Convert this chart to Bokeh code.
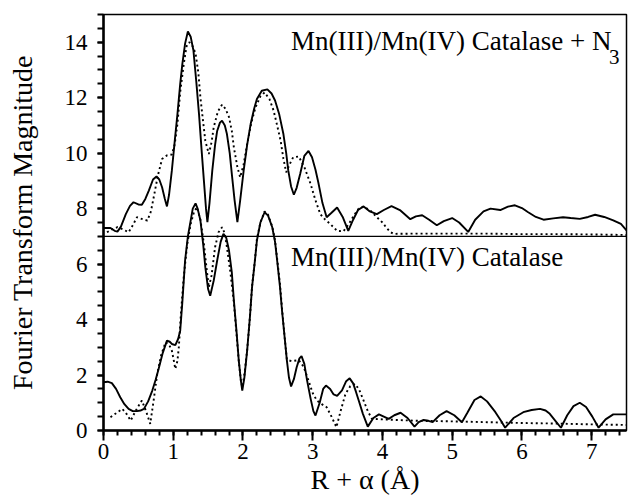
from bokeh.plotting import figure
from bokeh.models import Label, Span, FixedTicker, Range1d
from bokeh.embed import file_html
from bokeh.resources import INLINE

OFFSET = 7.0

# Mn(III)/Mn(IV) Catalase + N3 (top; plotted values include the +7 offset)
top_solid_x = [0.00, 0.10, 0.16, 0.20, 0.25, 0.32, 0.38, 0.43, 0.50, 0.55, 0.60, 0.65, 0.71, 0.76, 0.80,
               0.84, 0.88, 0.91, 0.94, 0.98, 1.02, 1.06, 1.10, 1.13, 1.17, 1.21, 1.25, 1.29, 1.33, 1.37,
               1.41, 1.44, 1.47, 1.49, 1.52, 1.56, 1.60, 1.63, 1.67, 1.70, 1.74, 1.77, 1.81, 1.84, 1.88,
               1.92, 1.96, 2.01, 2.06, 2.11, 2.16, 2.20, 2.27, 2.35, 2.41, 2.46, 2.52, 2.58, 2.62, 2.65,
               2.69, 2.73, 2.77, 2.82, 2.88, 2.94, 2.99, 3.04, 3.08, 3.14, 3.20, 3.27, 3.35, 3.43, 3.51,
               3.58, 3.65, 3.73, 3.82, 3.92, 4.02, 4.13, 4.25, 4.40, 4.48, 4.57, 4.67, 4.78, 4.88, 5.00,
               5.10, 5.23, 5.33, 5.45, 5.55, 5.69, 5.80, 5.90, 6.00, 6.09, 6.20, 6.31, 6.45, 6.59, 6.70,
               6.83, 6.95, 7.05, 7.18, 7.31, 7.42, 7.50]
top_solid_y = [7.30, 7.30, 7.20, 7.17, 7.35, 7.80, 8.10, 8.23, 8.15, 8.14, 8.35, 8.65, 9.05, 9.16, 9.05,
               8.77, 8.35, 8.08, 8.50, 9.37, 10.40, 11.40, 12.50, 13.20, 13.95, 14.39, 14.20, 13.70, 12.60, 11.40,
               10.00, 9.00, 8.00, 7.51, 8.20, 9.37, 10.30, 10.80, 11.10, 11.17, 11.00, 10.69, 10.00, 9.25, 8.30,
               7.51, 8.30, 9.37, 10.30, 11.05, 11.60, 11.95, 12.25, 12.30, 12.15, 11.90, 11.40, 10.69, 10.00, 9.37,
               8.80, 8.50, 8.75, 9.25, 9.90, 10.08, 9.85, 9.40, 8.95, 8.20, 7.69, 7.85, 8.04, 7.70, 7.20,
               7.60, 7.95, 8.08, 7.90, 7.80, 7.95, 8.09, 7.95, 7.62, 7.72, 7.76, 7.60, 7.40, 7.55, 7.66,
               7.50, 7.16, 7.60, 7.90, 8.00, 7.95, 8.07, 8.12, 8.02, 7.87, 7.70, 7.60, 7.65, 7.69, 7.66,
               7.63, 7.70, 7.78, 7.70, 7.58, 7.45, 7.22]

top_dot_x = [0.05, 0.12, 0.20, 0.28, 0.36, 0.42, 0.48, 0.56, 0.63, 0.68, 0.72, 0.78, 0.84, 0.91, 0.98,
             1.02, 1.06, 1.10, 1.15, 1.19, 1.23, 1.27, 1.32, 1.36, 1.39, 1.43, 1.46, 1.51, 1.55, 1.58,
             1.64, 1.70, 1.75, 1.80, 1.84, 1.87, 1.92, 1.96, 2.01, 2.06, 2.12, 2.18, 2.25, 2.31, 2.38,
             2.44, 2.49, 2.54, 2.58, 2.62, 2.67, 2.72, 2.80, 2.88, 2.97, 3.04, 3.11, 3.18, 3.25, 3.35,
             3.44, 3.52, 3.59, 3.66, 3.73, 3.82, 3.92, 4.00, 4.06, 4.12, 4.16, 4.50, 5.00, 5.50, 6.00,
             6.50, 7.00, 7.50]
top_dot_y = [7.15, 7.25, 7.33, 7.25, 7.15, 7.40, 7.69, 7.62, 7.57, 7.90, 8.41, 9.20, 9.79, 9.92, 9.95,
             10.30, 11.05, 12.20, 13.20, 13.85, 14.00, 13.90, 13.60, 12.90, 12.00, 11.10, 10.45, 9.97, 10.40, 10.93,
             11.50, 11.75, 11.60, 11.30, 10.80, 10.20, 9.50, 9.13, 9.60, 10.33, 11.10, 11.65, 12.05, 12.19, 11.95,
             11.53, 11.00, 10.45, 9.80, 9.31, 9.60, 9.85, 9.88, 9.50, 8.89, 8.30, 7.80, 7.60, 7.45, 7.20,
             7.18, 7.45, 7.75, 8.00, 8.07, 7.95, 7.69, 7.50, 7.30, 7.15, 7.09, 7.10, 7.10, 7.10, 7.08,
             7.08, 7.07, 7.05]

# Mn(III)/Mn(IV) Catalase (bottom)
bot_solid_x = [0.00, 0.06, 0.12, 0.18, 0.24, 0.30, 0.36, 0.42, 0.48, 0.53, 0.58, 0.64, 0.70, 0.75, 0.79,
               0.85, 0.91, 0.95, 0.98, 1.03, 1.07, 1.10, 1.13, 1.17, 1.21, 1.25, 1.28, 1.32, 1.35, 1.39,
               1.43, 1.46, 1.50, 1.53, 1.58, 1.63, 1.68, 1.72, 1.76, 1.80, 1.84, 1.87, 1.91, 1.94, 1.97,
               1.99, 2.02, 2.06, 2.10, 2.13, 2.17, 2.20, 2.25, 2.31, 2.36, 2.42, 2.46, 2.49, 2.53, 2.56,
               2.60, 2.63, 2.66, 2.69, 2.73, 2.77, 2.81, 2.84, 2.88, 2.92, 2.97, 3.01, 3.04, 3.10, 3.15,
               3.19, 3.25, 3.30, 3.35, 3.42, 3.48, 3.53, 3.58, 3.62, 3.66, 3.72, 3.79, 3.87, 3.95, 4.02,
               4.09, 4.17, 4.26, 4.36, 4.46, 4.52, 4.59, 4.66, 4.72, 4.82, 4.92, 5.03, 5.14, 5.22, 5.32,
               5.41, 5.50, 5.62, 5.70, 5.76, 5.88, 6.02, 6.14, 6.26, 6.34, 6.40, 6.48, 6.56, 6.65, 6.74,
               6.83, 6.92, 7.01, 7.10, 7.20, 7.31, 7.50]
bot_solid_y = [1.74, 1.76, 1.71, 1.50, 1.20, 0.95, 0.78, 0.70, 0.70, 0.72, 0.78, 1.05, 1.44, 1.85, 2.22,
               2.80, 3.24, 3.20, 3.12, 3.08, 3.30, 3.60, 4.60, 6.13, 7.00, 7.57, 8.00, 8.19, 8.00, 7.57,
               6.70, 5.89, 5.10, 4.86, 5.40, 6.13, 6.80, 7.09, 6.95, 6.49, 5.70, 4.68, 3.50, 2.52, 1.80,
               1.44, 1.90, 2.88, 4.10, 5.16, 6.10, 6.85, 7.50, 7.87, 7.75, 7.33, 6.80, 6.13, 5.20, 4.32,
               3.30, 2.52, 1.90, 1.59, 1.85, 2.28, 2.60, 2.68, 2.40, 1.80, 1.15, 0.70, 0.54, 1.00, 1.50,
               1.62, 1.50, 1.30, 1.25, 1.45, 1.78, 1.88, 1.70, 1.40, 1.08, 0.60, 0.14, 0.45, 0.58, 0.50,
               0.42, 0.55, 0.64, 0.45, 0.14, 0.30, 0.38, 0.35, 0.30, 0.55, 0.70, 0.55, 0.30, 0.65, 1.10,
               1.23, 1.05, 0.66, 0.35, 0.10, 0.45, 0.66, 0.74, 0.78, 0.72, 0.60, 0.35, 0.10, 0.55, 0.88,
               1.00, 0.85, 0.50, 0.10, 0.40, 0.58, 0.58]

bot_dot_x = [0.10, 0.18, 0.27, 0.33, 0.39, 0.47, 0.55, 0.61, 0.67, 0.72, 0.77, 0.83, 0.89, 0.94, 0.98,
             1.01, 1.03, 1.06, 1.08, 1.11, 1.15, 1.20, 1.25, 1.30, 1.34, 1.39, 1.44, 1.48, 1.51, 1.55,
             1.60, 1.65, 1.70, 1.74, 1.77, 1.82, 1.87, 1.91, 1.94, 1.97, 1.99, 2.02, 2.06, 2.10, 2.13,
             2.17, 2.20, 2.25, 2.31, 2.36, 2.42, 2.46, 2.49, 2.53, 2.56, 2.60, 2.63, 2.70, 2.80, 2.87,
             2.94, 3.00, 3.06, 3.13, 3.20, 3.27, 3.34, 3.40, 3.47, 3.54, 3.61, 3.67, 3.73, 3.79, 3.85,
             4.00, 4.50, 5.00, 5.50, 6.00, 6.50, 7.00, 7.50]
bot_dot_y = [0.48, 0.62, 0.78, 0.60, 0.36, 0.75, 1.08, 0.70, 0.24, 1.10, 2.04, 2.75, 3.18, 3.10, 2.88,
             2.50, 2.22, 2.50, 3.00, 4.20, 5.52, 6.70, 7.45, 7.90, 8.05, 7.60, 6.73, 5.80, 5.16, 5.60,
             6.61, 7.15, 7.33, 7.10, 6.61, 5.70, 4.60, 3.40, 2.50, 1.80, 1.56, 2.00, 2.90, 4.10, 5.20,
             6.10, 6.90, 7.50, 7.90, 7.78, 7.35, 6.85, 6.20, 5.30, 4.40, 3.30, 2.55, 2.50, 2.54, 2.30,
             1.80, 1.35, 1.08, 0.95, 0.84, 0.50, 0.12, 0.70, 1.32, 1.60, 1.68, 1.45, 1.08, 0.70, 0.42,
             0.40, 0.35, 0.33, 0.30, 0.27, 0.25, 0.22, 0.20]

x_ticks = [0, 1, 2, 3, 4, 5, 6, 7]
y_ticks = [0, 2, 4, 6, 8, 10, 12, 14]
top_label = "Mn(III)/Mn(IV) Catalase + N"
top_sub = "3"
bot_label = "Mn(III)/Mn(IV) Catalase"

FONT = "Liberation Serif"

p = figure(width=628, height=502, output_backend="svg", toolbar_location=None,
           x_range=Range1d(0, 7.5), y_range=Range1d(0, 15),
           min_border_left=103, min_border_right=2, min_border_top=14, min_border_bottom=72)
p.background_fill_color = "white"
p.border_fill_color = "white"
p.grid.visible = False
p.outline_line_color = "black"
p.outline_line_width = 1.5

p.xaxis.ticker = FixedTicker(ticks=x_ticks, minor_ticks=[i * 0.2 for i in range(0, 38)])
p.yaxis.ticker = FixedTicker(ticks=y_ticks, minor_ticks=[i * 0.5 for i in range(0, 31)])

for ax in (p.xaxis, p.yaxis):
    ax.axis_line_color = "black"
    ax.axis_line_width = 2.5
    ax.major_tick_line_color = "black"
    ax.minor_tick_line_color = "black"
    ax.major_tick_line_width = 2
    ax.minor_tick_line_width = 2
    ax.major_tick_in = 0
    ax.minor_tick_in = 0
    ax.major_label_text_font = FONT
    ax.major_label_text_font_size = "23px"
    ax.major_label_text_color = "black"
    ax.axis_label_text_font = FONT
    ax.axis_label_text_font_size = "28px"
    ax.axis_label_text_font_style = "normal"
    ax.axis_label_text_color = "black"

p.xaxis.major_tick_out = 10
p.xaxis.minor_tick_out = 5
p.xaxis.major_label_standoff = 3
p.xaxis.axis_label = "R + \u03b1 (\u00c5)"
p.xaxis.axis_label_standoff = 2

p.yaxis.major_tick_out = 6
p.yaxis.minor_tick_out = 6
p.yaxis.major_label_standoff = 10
p.yaxis.axis_label = "Fourier Transform Magnitude"
p.yaxis.axis_label_standoff = 24

p.add_layout(Span(location=OFFSET, dimension="width", line_color="black", line_width=1.3))

p.line(top_solid_x, top_solid_y, line_color="black", line_width=1.9)
p.line(top_dot_x, top_dot_y, line_color="black", line_width=1.9, line_dash="2 3")
p.line(bot_solid_x, bot_solid_y, line_color="black", line_width=1.9)
p.line(bot_dot_x, bot_dot_y, line_color="black", line_width=1.9, line_dash="2 3")

p.add_layout(Label(x=2.69, y=14.06, text=top_label, text_font=FONT, text_font_size="27px",
                   text_color="black", text_baseline="alphabetic"))
p.add_layout(Label(x=7.25, y=13.45, text=top_sub, text_font=FONT, text_font_size="21px",
                   text_color="black", text_baseline="alphabetic"))
p.add_layout(Label(x=2.69, y=6.25, text=bot_label, text_font=FONT, text_font_size="27px",
                   text_color="black", text_baseline="alphabetic"))

open("out.html", "w").write(file_html(p, INLINE))
